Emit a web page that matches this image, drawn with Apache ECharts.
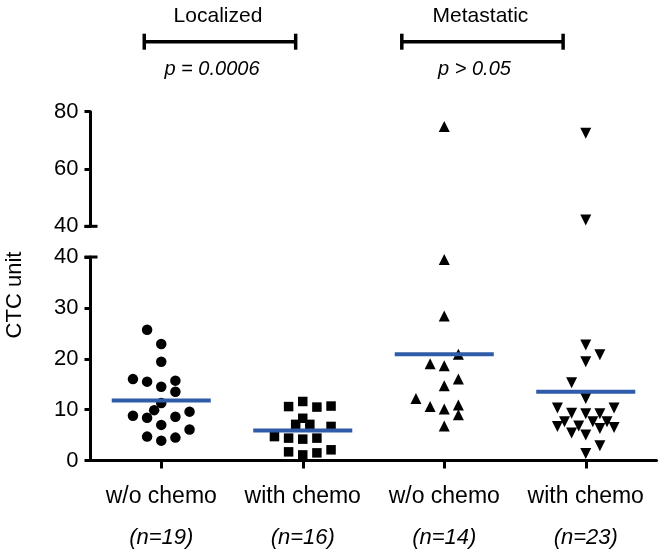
<!DOCTYPE html>
<html>
<head>
<meta charset="utf-8">
<script src="https://cdn.jsdelivr.net/npm/echarts@6/dist/echarts.min.js"></script>
<style>
  html, body { margin: 0; padding: 0; background: #fff; }
  #chart { width: 664px; height: 554px; }
</style>
</head>
<body>
<div id="chart"></div>
<script>
// ---- data ----
const categories = ['w/o chemo', 'with chemo', 'w/o chemo', 'with chemo'];
const nLabels = ['(n=19)', '(n=16)', '(n=14)', '(n=23)'];
const groupTitles = ['Localized', 'Metastatic'];
const pTexts = ['p = 0.0006', 'p > 0.05'];
const bracketRanges = [[0.88, 1.95], [2.70, 3.84]];

const locNoChemo = [25.7, 22.9, 19.4, 16.0, 15.5, 14.5, 15.7, 13.5, 11.3, 9.9, 8.8, 8.4, 8.6, 9.6, 7.0, 6.1, 4.7, 3.9, 4.5];
const locNoChemoCols = [-1, 0, 0, -2, -1, 0, 1, 1, 0, -0.5, -2, -1, 1, 2, 0, 2, -1, 0, 1];

const locChemo = [10.6, 11.6, 10.5, 10.7, 8.3, 7.1, 7.1, 6.7, 4.7, 4.4, 4.2, 4.4, 1.7, 1.1, 1.5, 2.1];
const locChemoCols = [-1, 0, 1, 2, 0, -0.5, 0.5, 2, -2, -1, 0, 1, -1, 0, 1, 2];

const metNoChemo = [74.8, 39.5, 28.4, 20.9, 19.0, 18.6, 16.0, 14.7, 12.2, 10.6, 10.1, 10.9, 9.0, 6.8];
const metNoChemoCols = [0, 0, 0, 1, -1, 0, 1, 0, -2, -1, 0, 1, 1, 0];

const metChemo = [72.5, 42.2, 22.7, 20.8, 19.4, 15.3, 12.2, 10.3, 9.3, 9.2, 9.2, 10.3, 7.6, 6.8, 7.6, 7.6, 6.7, 5.4, 5.0, 6.3, 6.5, 2.9, 1.4];
const metChemoCols = [0, 0, 0, 1, 0, -1, 0, -2, -1, 0, 1, 2, -1.5, -0.5, 0.5, 1.5, -2, -1, 0, 1, 2, 1, 0];

const meanValues = [11.8, 5.9, 20.9, 13.5];

const lowerTicks = [0, 10, 20, 30, 40];
const upperTicks = [40, 60, 80];

// ---- styling constants ----
const FONT = 'Liberation Sans, Arial, Helvetica, sans-serif';
const COL_STEP = 0.1;
const BREAK = 40;
const MEAN_HALF = 0.35;
const BLUE = '#2e5ca8';

const groups = [
  { vals: locNoChemo, cols: locNoChemoCols, symbol: 'circle', size: 10.5, rotate: 0 },
  { vals: locChemo, cols: locChemoCols, symbol: 'rect', size: 9.5, rotate: 0 },
  { vals: metNoChemo, cols: metNoChemoCols, symbol: 'triangle', size: 11, rotate: 0 },
  { vals: metChemo, cols: metChemoCols, symbol: 'triangle', size: 11, rotate: 180 }
];

const series = [];
groups.forEach((g, gi) => {
  const upper = [], lower = [];
  g.vals.forEach((v, k) => {
    const pt = [gi + 1 + g.cols[k] * COL_STEP, v];
    (v > BREAK ? upper : lower).push(pt);
  });
  const base = {
    type: 'scatter', symbol: g.symbol, symbolSize: g.size, symbolRotate: g.rotate,
    itemStyle: { color: '#000', opacity: 1 }, silent: true, z: 3
  };
  series.push(Object.assign({}, base, { xAxisIndex: 0, yAxisIndex: 0, data: upper }));
  series.push(Object.assign({}, base, { xAxisIndex: 2, yAxisIndex: 1, data: lower }));
});

series.push({
  type: 'custom', xAxisIndex: 2, yAxisIndex: 1, z: 10, silent: true,
  data: meanValues.map((m, i) => [i + 1, m]),
  renderItem: function (params, api) {
    const x = api.value(0), y = api.value(1);
    const p1 = api.coord([x - MEAN_HALF, y]);
    const p2 = api.coord([x + MEAN_HALF, y]);
    return { type: 'line', shape: { x1: p1[0], y1: p1[1], x2: p2[0], y2: p2[1] },
             style: { stroke: BLUE, lineWidth: 4 } };
  }
});

const axisLineStyle = { show: true, lineStyle: { color: '#000', width: 3 } };
const yLabel = { color: '#000', fontSize: 22, fontFamily: FONT, margin: 12 };

const chart = echarts.init(document.getElementById('chart'), null, { renderer: 'canvas' });
chart.setOption({
  animation: false,
  backgroundColor: '#fff',
  grid: [
    { left: 90.5, width: 566, top: 111.7, height: 114.6 },
    { left: 90.5, width: 566, top: 257, height: 203.5 }
  ],
  xAxis: [
    { gridIndex: 0, type: 'value', min: 0.5, max: 4.5, show: false },
    {
      gridIndex: 1, type: 'category', data: categories, position: 'bottom',
      axisLine: axisLineStyle,
      axisTick: { show: true, alignWithLabel: true, length: 8, lineStyle: { color: '#000', width: 3 } },
      axisLabel: {
        margin: 16, interval: 0,
        formatter: function (v, i) { return '{a|' + v + '}\n{n|' + nLabels[i] + '}'; },
        rich: {
          a: { fontSize: 23, fontFamily: FONT, color: '#000', lineHeight: 41 },
          n: { fontSize: 22, fontFamily: FONT, color: '#000', lineHeight: 41, fontStyle: 'italic' }
        }
      },
      splitLine: { show: false }
    },
    { gridIndex: 1, type: 'value', min: 0.5, max: 4.5, show: false }
  ],
  yAxis: [
    {
      gridIndex: 0, type: 'value', min: upperTicks[0], max: upperTicks[upperTicks.length - 1], interval: 20,
      axisLine: axisLineStyle,
      axisTick: { show: true, length: 6, lineStyle: { color: '#000', width: 3 } },
      axisLabel: yLabel, splitLine: { show: false }
    },
    {
      gridIndex: 1, type: 'value', min: lowerTicks[0], max: lowerTicks[lowerTicks.length - 1], interval: 10,
      axisLine: axisLineStyle,
      axisTick: { show: true, length: 6, lineStyle: { color: '#000', width: 3 } },
      axisLabel: yLabel, splitLine: { show: false }
    }
  ],
  series: series
});

// ---- annotations ----
const gfx = [];
// axis break caps
const axX = chart.convertToPixel({ xAxisIndex: 2 }, 0.5);
const yUpperMin = chart.convertToPixel({ yAxisIndex: 0 }, upperTicks[0]);
const yLowerMax = chart.convertToPixel({ yAxisIndex: 1 }, lowerTicks[lowerTicks.length - 1]);
[yUpperMin, yLowerMax].forEach(y => {
  gfx.push({ type: 'line', shape: { x1: axX - 6, y1: y, x2: axX + 7, y2: y },
             style: { stroke: '#000', lineWidth: 3 }, silent: true });
});
// y axis title
gfx.push({
  type: 'text', x: 15, y: 295, rotation: Math.PI / 2,
  style: { text: 'CTC unit', font: '22px ' + FONT, fill: '#000', textAlign: 'center', textVerticalAlign: 'middle' },
  silent: true
});
// brackets with titles and p-values
bracketRanges.forEach((r, i) => {
  const x1 = chart.convertToPixel({ xAxisIndex: 2 }, r[0]);
  const x2 = chart.convertToPixel({ xAxisIndex: 2 }, r[1]);
  const by = 41.7;
  gfx.push({ type: 'line', shape: { x1: x1, y1: by, x2: x2, y2: by }, style: { stroke: '#000', lineWidth: 3.5 }, silent: true });
  gfx.push({ type: 'line', shape: { x1: x1, y1: by - 8, x2: x1, y2: by + 8 }, style: { stroke: '#000', lineWidth: 3.5 }, silent: true });
  gfx.push({ type: 'line', shape: { x1: x2, y1: by - 8, x2: x2, y2: by + 8 }, style: { stroke: '#000', lineWidth: 3.5 }, silent: true });
  const cx = (x1 + x2) / 2;
  gfx.push({ type: 'text', x: cx - 2, y: 16,
             style: { text: groupTitles[i], font: '21px ' + FONT, fill: '#000', textAlign: 'center', textVerticalAlign: 'middle' }, silent: true });
  gfx.push({ type: 'text', x: cx - 8, y: 69,
             style: { text: pTexts[i], font: 'italic 20px ' + FONT, fill: '#000', textAlign: 'center', textVerticalAlign: 'middle' }, silent: true });
});
chart.setOption({ graphic: gfx });
</script>
</body>
</html>
